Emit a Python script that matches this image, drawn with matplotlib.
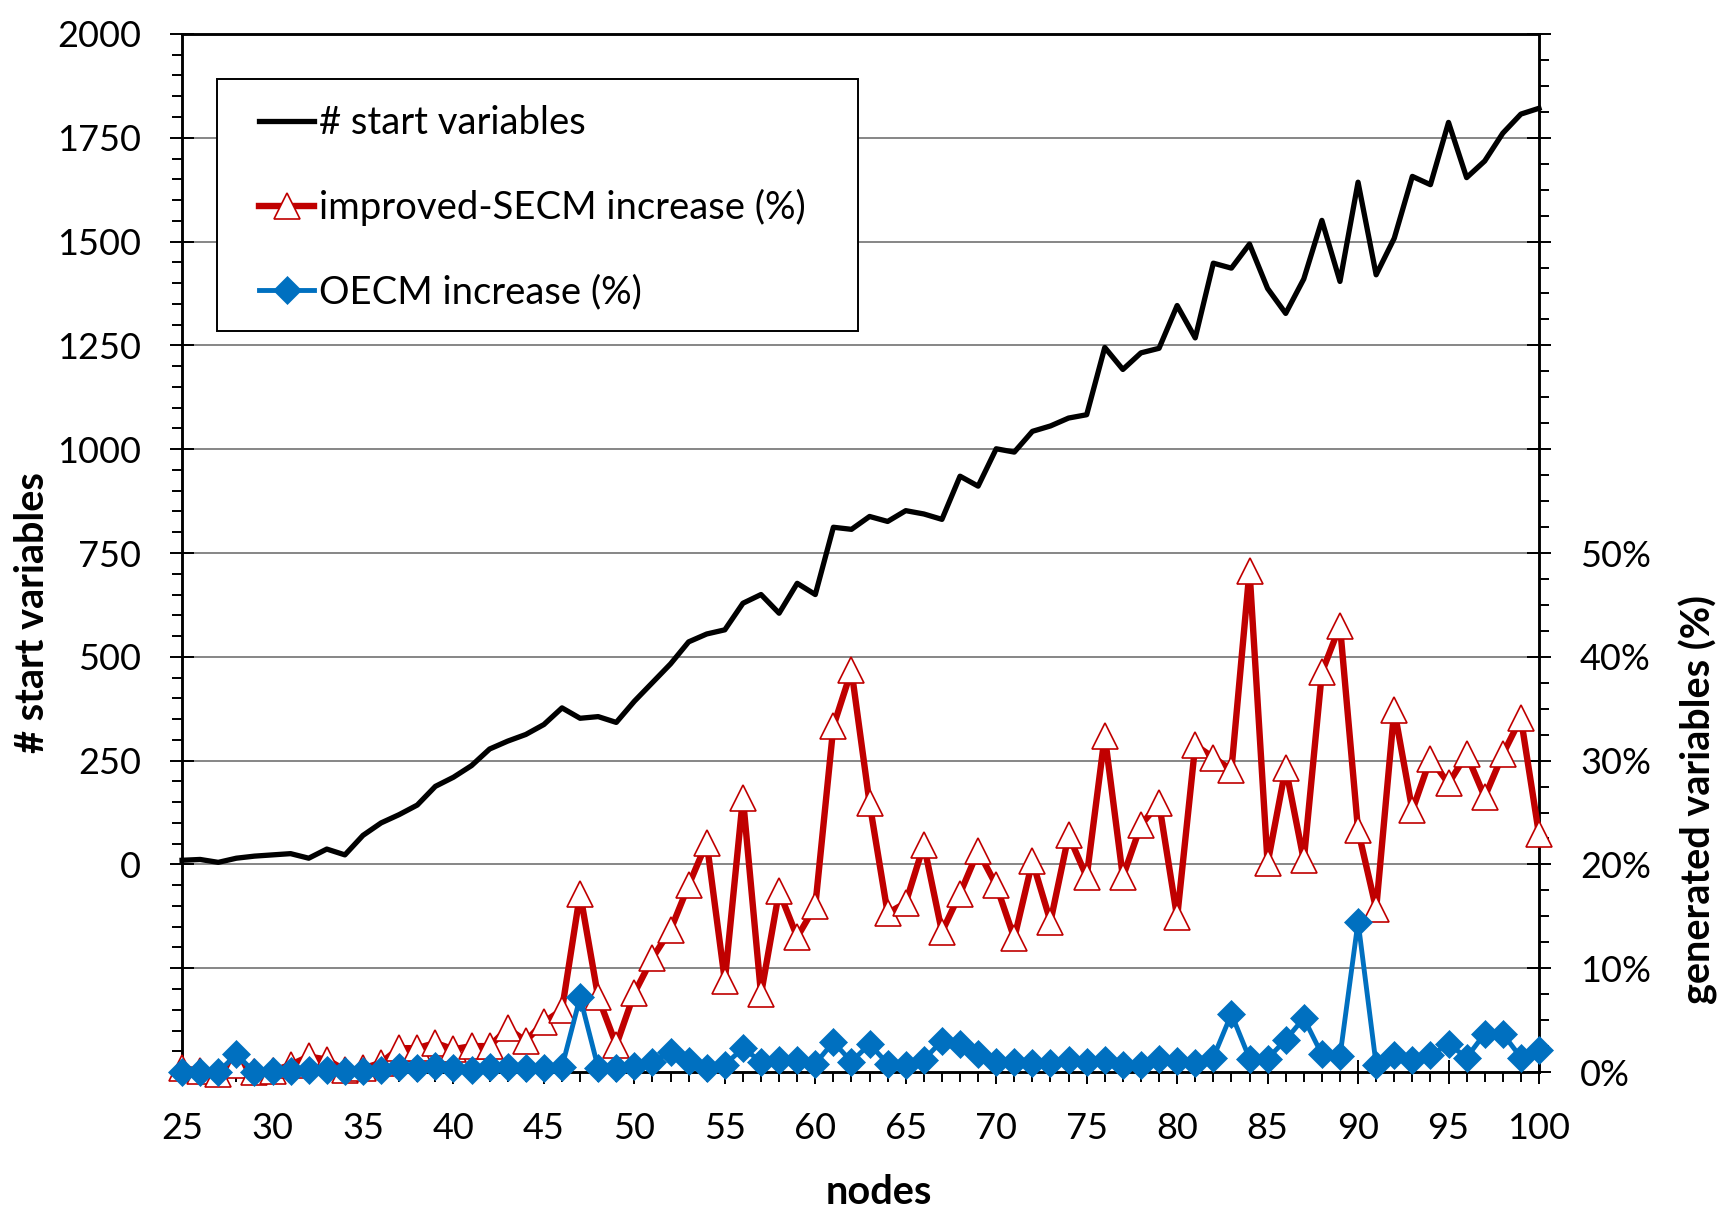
import matplotlib
matplotlib.use('Agg')
import matplotlib.pyplot as plt
from matplotlib.ticker import MultipleLocator
from matplotlib.patches import Rectangle

# values
nodes = list(range(25, 101))

start_vars = [10, 12, 5, 15, 20, 23, 26, 15, 37, 23,
              70, 100, 120, 143, 188, 210, 238, 278, 297, 313,
              337, 377, 352, 356, 342, 393, 438, 483, 536, 555,
              565, 629, 650, 605, 677, 650, 812, 807, 838, 826,
              852, 844, 831, 935, 911, 1001, 993, 1043, 1056, 1075,
              1083, 1245, 1192, 1232, 1243, 1346, 1268, 1448, 1436, 1494,
              1387, 1327, 1410, 1551, 1404, 1643, 1420, 1508, 1657, 1637,
              1787, 1654, 1694, 1761, 1807, 1821]

secm_inc = [0.4, 0.1, -0.2, 0.7, 0.0, 0.1, 0.7, 1.5, 1.2, 0.2,
            0.35, 0.9, 2.3, 2.3, 2.8, 2.2, 2.5, 2.5, 4.2, 3.0,
            4.8, 6.0, 17.2, 7.2, 2.6, 7.6, 11.0, 13.7, 18.0, 22.1,
            8.8, 26.4, 7.5, 17.4, 13.0, 16.0, 33.3, 38.7, 25.9, 15.3,
            16.3, 21.9, 13.5, 17.2, 21.3, 18.0, 12.9, 20.3, 14.5, 22.8,
            18.8, 32.4, 18.8, 23.8, 25.9, 14.9, 31.5, 30.3, 29.1, 48.3,
            20.1, 29.3, 20.4, 38.5, 43.0, 23.3, 15.7, 34.9, 25.2, 30.2,
            27.8, 30.6, 26.5, 30.6, 34.1, 22.9]

oecm_inc = [0.0, 0.0, 0.0, 1.7, 0.0, 0.1, 0.1, 0.2, 0.2, 0.1,
            0.1, 0.2, 0.5, 0.35, 0.6, 0.35, 0.2, 0.5, 0.5, 0.4,
            0.4, 0.5, 7.2, 0.4, 0.4, 0.6, 1.0, 1.9, 1.1, 0.4,
            0.7, 2.3, 1.0, 1.2, 1.2, 0.8, 2.9, 1.0, 2.7, 0.8,
            0.7, 1.2, 3.0, 2.7, 1.7, 1.0, 1.0, 0.9, 0.9, 1.2,
            1.0, 1.2, 0.7, 0.7, 1.3, 1.1, 0.9, 1.4, 5.6, 1.3,
            1.3, 3.1, 5.2, 1.7, 1.5, 14.5, 0.7, 1.6, 1.2, 1.6,
            2.7, 1.4, 3.7, 3.7, 1.4, 2.1]

x_ticks = list(range(25, 101, 5))
left_ticks = list(range(-500, 2001, 250))
left_labels = ['', ''] + [str(v) for v in range(0, 2001, 250)]
right_ticks = list(range(0, 101, 10))
right_labels = ['%d%%' % v for v in range(0, 51, 10)] + [''] * 5

RED = '#C00000'
BLUE = '#0070C0'

plt.rcParams['font.family'] = ['Lato', 'DejaVu Sans']
TICK_FS = 26
LABEL_FS = 28.5
LEG_FS = 27.5

fig = plt.figure(figsize=(17.29, 12.17), dpi=100)
ax = fig.add_axes([0.1053, 0.1191, 0.7848, 0.8530])
ax2 = ax.twinx()

l1, = ax.plot(nodes, start_vars, color='black', lw=3.8, clip_on=False,
              zorder=3, label='# start variables')
l2, = ax2.plot(nodes, secm_inc, color=RED, lw=4.6, marker='^', ms=18.5,
               mfc='white', mec=RED, mew=1.2, clip_on=False, zorder=3,
               label='improved-SECM increase (%)')
l3, = ax2.plot(nodes, oecm_inc, color=BLUE, lw=3.5, marker='D', ms=13.8,
               mfc=BLUE, mec=BLUE, mew=0.5, clip_on=False, zorder=4,
               label='OECM increase (%)')

ax.set_xlim(25, 100)
ax.set_ylim(-500, 2000)
ax2.set_ylim(0, 100)

ax.set_xticks(x_ticks)
ax.xaxis.set_minor_locator(MultipleLocator(1))
ax.set_yticks(left_ticks)
ax.set_yticklabels(left_labels)
ax.yaxis.set_minor_locator(MultipleLocator(50))
ax2.set_yticks(right_ticks)
ax2.set_yticklabels(right_labels)
ax2.yaxis.set_minor_locator(MultipleLocator(2.5))

# gridlines at the inner major positions only
for v in left_ticks[1:-1]:
    ax.axhline(v, color='#868686', lw=1.4, zorder=1)

for a in (ax, ax2):
    a.tick_params(which='major', direction='inout', length=17, width=1.4,
                  pad=21, labelsize=TICK_FS, colors='black')
    a.tick_params(which='minor', direction='out', length=7.5, width=1.4)
    for s in a.spines.values():
        s.set_linewidth(1.8)
        s.set_color('black')
ax.tick_params(axis='x', which='major', pad=20)

fig.text(33 / 1729, 1 - 613 / 1217, '# start variables', rotation=90,
         ha='center', va='center', fontsize=LABEL_FS, fontweight='bold')
fig.text(1698 / 1729, 1 - 800 / 1217, 'generated variables (%)', rotation=90,
         ha='center', va='center', fontsize=LABEL_FS, fontweight='bold')
fig.text(879 / 1729, 1 - 1193 / 1217, 'nodes', ha='center', va='center',
         fontsize=LABEL_FS, fontweight='bold')

# legend box drawn by hand so the entries can sit inside it freely
box = Rectangle((0.0258, 0.7139), 0.4724, 0.2427, transform=ax2.transAxes,
                facecolor='white', edgecolor='black', lw=1.4, zorder=9,
                clip_on=False)
ax2.add_patch(box)
leg = ax2.legend(handles=[l1, l2, l3], loc='upper left',
                 bbox_to_anchor=(0.0567, 0.9315), fontsize=LEG_FS,
                 frameon=False, borderpad=0, labelspacing=1.26,
                 handlelength=1.44, handletextpad=0.12, borderaxespad=0)
leg.set_zorder(10)

fig.savefig('out.png', dpi=100)
